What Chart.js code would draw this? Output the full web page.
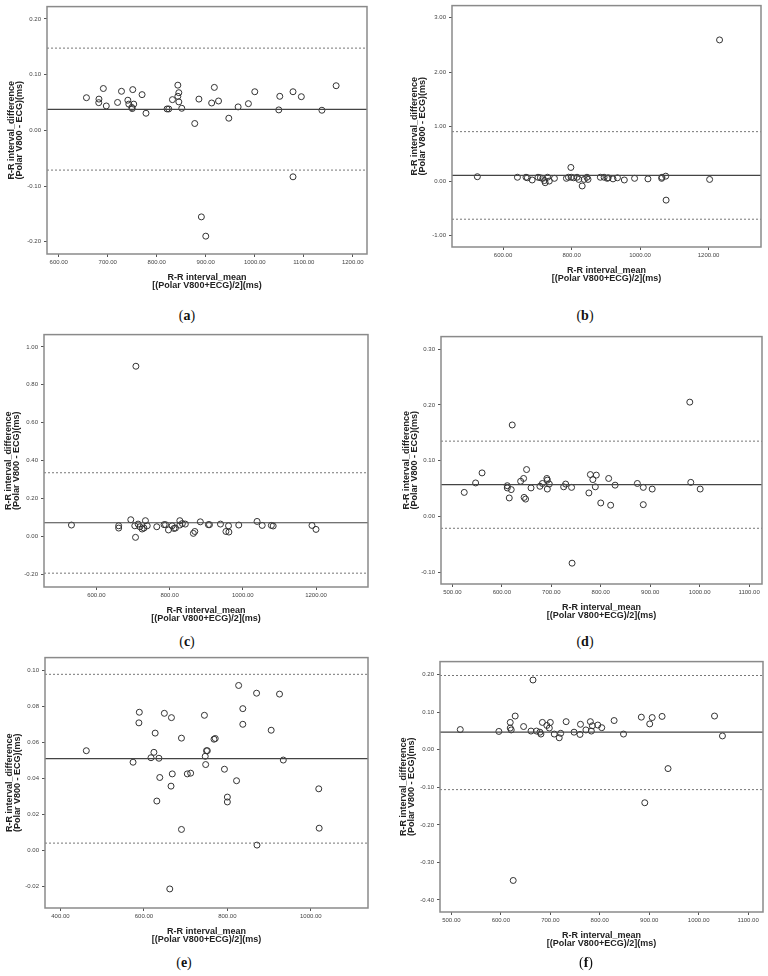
<!DOCTYPE html>
<html>
<head>
<meta charset="utf-8">
<script src="https://cdn.jsdelivr.net/npm/chart.js@4.4.1/dist/chart.umd.min.js"></script>
<style>
  body { margin: 0; background: #fff; }
  #page { position: relative; width: 768px; height: 976px; overflow: hidden; }
  #page canvas { position: absolute; }
  .cap { position: absolute; font-family: "Liberation Serif", serif; font-size: 14px; color: #111; transform: translate(-50%, -50%); }
</style>
</head>
<body>
<div id="page"></div>
<script>
// (a)
const aMeanRR = [656.5, 691, 682, 681.6, 697, 720, 728, 741, 743, 751, 753, 749, 750, 770, 778, 821, 824.5, 843, 845, 843, 845, 832, 851, 877.5, 886, 891, 900, 912, 917.5, 926, 947, 966, 987, 1000, 1049, 1051, 1078, 1078, 1095, 1137, 1166];
const aDiffRR = [0.0585, 0.075, 0.056, 0.0496, 0.0437, 0.050, 0.070, 0.054, 0.047, 0.073, 0.047, 0.041, 0.039, 0.064, 0.0306, 0.0383, 0.0383, 0.081, 0.0675, 0.061, 0.051, 0.055, 0.0395, 0.0122, 0.056, -0.1554, -0.190, 0.049, 0.077, 0.0526, 0.0217, 0.042, 0.0478, 0.0692, 0.0366, 0.061, 0.0692, -0.0835, 0.0603, 0.036, 0.080];
const aLines = [0.0375, 0.1475, -0.0714]; // mean, upper, lower
const aXTicks = [600, 700, 800, 900, 1000, 1100, 1200];
const aYTicks = [-0.2, -0.1, 0, 0.1, 0.2];

// (b)
const bMeanRR = [525, 642, 667, 671, 685, 702, 709, 716, 721, 723, 730, 735, 750, 798, 785, 791, 799, 806, 816, 821, 831, 837, 848, 845, 884, 895, 904, 907, 921, 934, 954, 984, 1023, 1063, 1064, 1075, 1076, 1203, 1232];
const bDiffRR = [0.08, 0.07, 0.07, 0.06, 0.02, 0.07, 0.06, 0.05, 0.01, -0.03, 0.07, 0.0, 0.05, 0.25, 0.05, 0.07, 0.07, 0.06, 0.07, 0.03, -0.09, 0.03, 0.03, 0.07, 0.07, 0.07, 0.05, 0.06, 0.04, 0.06, 0.02, 0.05, 0.04, 0.05, 0.07, 0.09, -0.35, 0.03, 2.59];
const bLines = [0.104, 0.907, -0.70];
const bXTicks = [600, 800, 1000, 1200];
const bYTicks = [-1, 0, 1, 2, 3];

// (c)
const cMeanRR = [532, 708, 661, 661, 694, 705, 714, 719, 725, 730, 734, 739, 707, 765, 785, 789, 797, 807, 812, 816, 828, 828, 835, 843, 865, 869, 884, 906, 909, 939, 961, 954, 962, 989, 1039, 1053, 1078, 1083, 1189, 1200];
const cDiffRR = [0.060, 0.898, 0.056, 0.044, 0.088, 0.056, 0.065, 0.051, 0.039, 0.044, 0.083, 0.056, -0.005, 0.051, 0.062, 0.062, 0.034, 0.056, 0.042, 0.044, 0.083, 0.060, 0.068, 0.065, 0.016, 0.026, 0.077, 0.062, 0.062, 0.065, 0.056, 0.026, 0.023, 0.060, 0.079, 0.058, 0.058, 0.055, 0.058, 0.037];
const cLines = [0.072, 0.336, -0.194];
const cXTicks = [600, 800, 1000, 1200];
const cYTicks = [-0.2, 0, 0.2, 0.4, 0.6, 0.8, 1.0];

// (d)
const dMeanRR = [524, 547, 560, 611, 611, 619, 615, 638, 644, 650, 645, 648, 659, 677, 682, 691, 692, 696, 692, 725, 729, 741, 779, 791, 784, 789, 776, 800, 816, 829, 820, 874, 886, 886, 904, 982, 1001, 621, 742, 980];
const dDiffRR = [0.043, 0.060, 0.078, 0.055, 0.051, 0.048, 0.033, 0.063, 0.068, 0.084, 0.034, 0.031, 0.051, 0.054, 0.059, 0.068, 0.065, 0.058, 0.049, 0.053, 0.058, 0.052, 0.075, 0.074, 0.066, 0.053, 0.042, 0.024, 0.068, 0.056, 0.020, 0.059, 0.052, 0.021, 0.049, 0.061, 0.049, 0.164, -0.084, 0.205];
const dLines = [0.057, 0.135, -0.0214];
const dXTicks = [500, 600, 700, 800, 900, 1000, 1100];
const dYTicks = [-0.1, 0, 0.1, 0.2, 0.3];

// (e)
const eMeanRR = [462, 574, 589, 588, 627, 624, 617, 636, 638, 631, 649, 666, 668, 665, 690, 704, 712, 690, 662, 745, 750, 752, 747, 748, 768, 771, 793, 800, 800, 822, 827, 837, 837, 870, 871, 905, 925, 934, 1019, 1020];
const eDiffRR = [0.0554, 0.0490, 0.0768, 0.0709, 0.0652, 0.0545, 0.0515, 0.0512, 0.0405, 0.0274, 0.0762, 0.0738, 0.0425, 0.0357, 0.0624, 0.0425, 0.0429, 0.0116, -0.0215, 0.0751, 0.0554, 0.0554, 0.0523, 0.0477, 0.0618, 0.0622, 0.0451, 0.0296, 0.0269, 0.0387, 0.0917, 0.0788, 0.0701, 0.0874, 0.0029, 0.0668, 0.0869, 0.0502, 0.0342, 0.0123];
const eLines = [0.051, 0.0979, 0.004];
const eXTicks = [400, 600, 800, 1000];
const eYTicks = [-0.02, 0, 0.02, 0.04, 0.06, 0.08, 0.10];

// (f)
const fMeanRR = [596, 619, 619, 621, 629, 646, 661, 672, 679, 681, 684, 693, 700, 698, 708, 721, 718, 732, 748, 760, 761, 772, 781, 783, 785, 796, 804, 829, 848, 884, 906, 901, 926, 518, 1032, 1048, 665, 938, 891, 625];
const fDiffRR = [0.049, 0.073, 0.058, 0.053, 0.090, 0.062, 0.050, 0.050, 0.047, 0.042, 0.073, 0.065, 0.073, 0.058, 0.042, 0.044, 0.032, 0.075, 0.047, 0.041, 0.068, 0.053, 0.075, 0.050, 0.064, 0.066, 0.059, 0.078, 0.042, 0.087, 0.086, 0.069, 0.089, 0.054, 0.090, 0.037, 0.186, -0.050, -0.141, -0.348];
const fLines = [0.047, 0.198, -0.106];
const fXTicks = [500, 600, 700, 800, 900, 1000, 1100];
const fYTicks = [-0.4, -0.3, -0.2, -0.1, 0, 0.1, 0.2];

const xTitle = ['R-R interval_mean', '[(Polar V800+ECG)/2](ms)'];
const yTitle = ['R-R interval_difference', '(Polar V800 - ECG)(ms)'];

// layout: plot box [left, top, right, bottom] on the page, where the y title starts, caption spot
const panels = [
  {cap: 'a', x: aMeanRR, y: aDiffRR, lines: aLines, xt: aXTicks, yt: aYTicks, xr: [576, 1229], yr: [-0.222, 0.222], box: [47, 5, 367, 254], tl: 7, capPos: [187, 316]},
  {cap: 'b', x: bMeanRR, y: bDiffRR, lines: bLines, xt: bXTicks, yt: bYTicks, xr: [451, 1353], yr: [-1.21, 3.22], box: [452, 4, 761, 247], tl: 410, capPos: [585, 316]},
  {cap: 'c', x: cMeanRR, y: cDiffRR, lines: cLines, xt: cXTicks, yt: cYTicks, xr: [457, 1342], yr: [-0.267, 1.065], box: [44, 333, 368, 587], tl: 4, capPos: [187, 642]},
  {cap: 'd', x: dMeanRR, y: dDiffRR, lines: dLines, xt: dXTicks, yt: dYTicks, xr: [477, 1126], yr: [-0.1214, 0.3226], box: [441, 335, 762, 584], tl: 402, capPos: [585, 642]},
  {cap: 'e', x: eMeanRR, y: eDiffRR, lines: eLines, xt: eXTicks, yt: eYTicks, xr: [363, 1137], yr: [-0.0321, 0.1072], box: [45, 656, 368, 908], tl: 5, capPos: [184, 963]},
  {cap: 'f', x: fMeanRR, y: fDiffRR, lines: fLines, xt: fXTicks, yt: fYTicks, xr: [477, 1130], yr: [-0.432, 0.235], box: [440, 660, 763, 912], tl: 399, capPos: [586, 963]}
];

Chart.defaults.font.family = '"Liberation Sans", Arial, sans-serif';

const frame = {
  id: 'frame',
  afterDraw(chart) {
    const {ctx, chartArea: a} = chart;
    ctx.save();
    ctx.strokeStyle = '#8a8a8a';
    ctx.lineWidth = 1.5;
    ctx.strokeRect(a.left, a.top, a.right - a.left, a.bottom - a.top);
    ctx.restore();
  }
};

const page = document.getElementById('page');

panels.forEach(p => {
  const [l, t, r, b] = p.box;
  const cLeft = l < 384 ? 0 : 384;
  const cTop = t - 5;
  const w = 384, h = b - t + 50;
  const cv = document.createElement('canvas');
  cv.width = w; cv.height = h;
  cv.style.left = cLeft + 'px';
  cv.style.top = cTop + 'px';
  page.appendChild(cv);

  const cap = document.createElement('div');
  cap.className = 'cap';
  cap.innerHTML = '(<b>' + p.cap + '</b>)';
  cap.style.left = p.capPos[0] + 'px';
  cap.style.top = p.capPos[1] + 'px';
  page.appendChild(cap);

  const refLine = (v, dash) => ({
    data: [{x: p.xr[0], y: v}, {x: p.xr[1], y: v}],
    showLine: true, pointRadius: 0,
    borderColor: dash ? '#777' : '#444',
    borderWidth: dash ? 1 : 1.2,
    borderDash: dash ? [2, 2] : []
  });

  new Chart(cv.getContext('2d'), {
    type: 'scatter',
    data: {
      datasets: [
        refLine(p.lines[0], false),
        refLine(p.lines[1], true),
        refLine(p.lines[2], true),
        {
          data: p.x.map((v, i) => ({x: v, y: p.y[i]})),
          pointRadius: 3,
          pointBorderWidth: 1,
          borderColor: '#333',
          backgroundColor: 'rgba(255,255,255,0)'
        }
      ]
    },
    options: {
      responsive: false,
      animation: false,
      layout: {padding: {left: p.tl - cLeft, top: t - cTop, right: cLeft + w - r, bottom: 5}},
      plugins: {legend: {display: false}, tooltip: {enabled: false}},
      scales: {
        x: {
          type: 'linear', min: p.xr[0], max: p.xr[1],
          afterFit: s => { s.height = 40; },
          afterBuildTicks: s => { s.ticks = p.xt.map(v => ({value: v})); },
          border: {display: false},
          grid: {drawOnChartArea: false, tickLength: 3, color: '#555'},
          ticks: {autoSkip: false, maxRotation: 0, padding: 2, color: '#444', font: {size: 6}, callback: v => Number(v).toFixed(2)},
          title: {display: true, text: xTitle, color: '#222', padding: {top: 0, bottom: 4}, font: {size: 9, weight: 'bold', lineHeight: 0.92}}
        },
        y: {
          type: 'linear', min: p.yr[0], max: p.yr[1],
          afterFit: s => { s.width = l - p.tl; },
          afterBuildTicks: s => { s.ticks = p.yt.map(v => ({value: v})); },
          border: {display: false},
          grid: {drawOnChartArea: false, tickLength: 3, color: '#555'},
          ticks: {autoSkip: false, padding: 3, color: '#444', font: {size: 6}, callback: v => Number(v).toFixed(2)},
          title: {display: true, text: yTitle, color: '#222', padding: {top: 0, bottom: 0}, font: {size: 9, weight: 'bold', lineHeight: 0.92}}
        }
      }
    },
    plugins: [frame]
  });
});
</script>
</body>
</html>
